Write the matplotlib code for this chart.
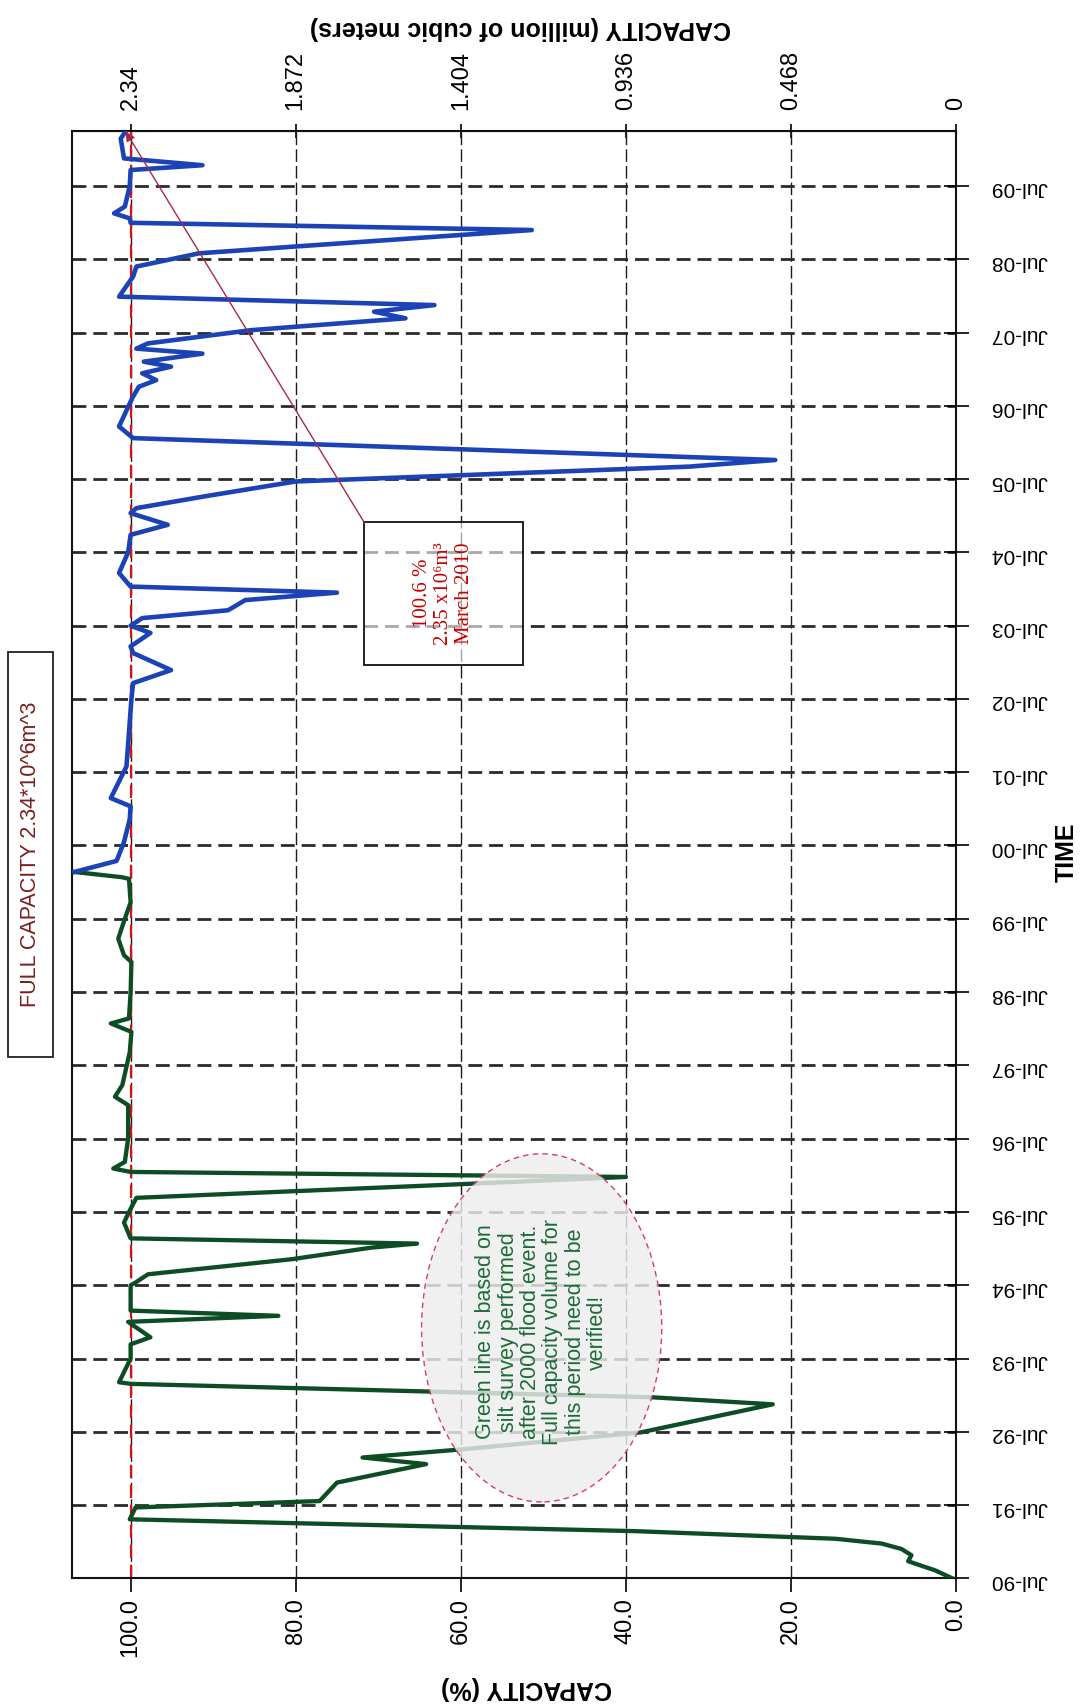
import matplotlib
matplotlib.use("Agg")
import matplotlib.pyplot as plt
import matplotlib.dates as mdates
from matplotlib.patches import Ellipse, Rectangle
from matplotlib.ticker import FuncFormatter
import pandas as pd

plt.rcParams['font.family'] = ['Liberation Sans', 'DejaVu Sans']

FULL_CAPACITY_MCM = 2.34  # million m^3 at 100 %

# Storage before the 2000 silt survey (green) ------------------------------
green_dates = [
    "1990-07-03", "1990-08-10", "1990-09-25", "1990-10-25", "1990-11-25",
    "1990-12-22", "1991-01-15", "1991-02-22", "1991-04-22", "1991-06-20",
    "1991-07-22", "1991-10-22", "1992-01-22", "1992-02-24", "1992-04-05",
    "1992-06-28", "1992-11-15", "1992-12-20", "1993-02-25", "1993-03-05",
    "1993-07-01", "1993-09-10", "1993-10-15", "1993-12-31", "1994-01-30",
    "1994-02-25", "1994-07-01", "1994-07-15", "1994-08-25", "1994-11-08",
    "1995-01-05", "1995-01-25", "1995-02-20", "1995-05-10", "1995-07-01",
    "1995-09-10", "1995-11-20", "1995-12-23", "1996-01-17", "1996-02-03",
    "1996-03-07", "1996-07-01", "1996-12-15", "1997-01-26", "1997-03-25",
    "1997-09-06", "1997-12-15", "1998-01-26", "1998-02-20", "1998-07-01",
    "1998-11-28", "1999-01-01", "1999-03-25", "1999-07-01", "1999-09-22",
    "2000-01-17", "2000-01-25", "2000-02-20",
]
green_pct = [
    0.5, 2.5, 5.8, 5.4, 6.6,
    9.0, 14.6, 38.9, 100.1, 99.4,
    77.1, 75.0, 64.2, 71.9, 59.7,
    38.2, 22.2, 36.8, 100.0, 101.4,
    100.0, 100.0, 97.6, 100.3, 82.1,
    100.0, 100.0, 99.4, 97.9, 80.5,
    70.8, 65.3, 100.0, 100.8, 100.2,
    99.3, 58.3, 40.0, 100.0, 102.1,
    100.7, 100.3, 100.3, 101.9, 101.0,
    100.1, 99.9, 102.4, 100.2, 100.0,
    99.9, 100.8, 101.5, 100.7, 100.0,
    100.2, 101.1, 106.8,
]

# Storage after the 2000 flood event (blue) --------------------------------
blue_dates = [
    "2000-02-20", "2000-04-15", "2000-07-18", "2000-11-10", "2001-01-12",
    "2001-02-22", "2001-07-30", "2002-07-01", "2002-09-18", "2002-11-22",
    "2003-02-15", "2003-03-20", "2003-05-26", "2003-07-01", "2003-08-08",
    "2003-09-16", "2003-11-06", "2003-12-13", "2004-01-12", "2004-03-20",
    "2004-07-01", "2004-09-26", "2004-11-15", "2005-01-12", "2005-02-06",
    "2005-04-06", "2005-06-19", "2005-09-01", "2005-10-04", "2006-01-21",
    "2006-03-20", "2006-07-13", "2006-08-16", "2006-10-04", "2006-11-06",
    "2006-12-10", "2007-01-12", "2007-02-06", "2007-03-18", "2007-04-12",
    "2007-05-08", "2007-07-13", "2007-09-10", "2007-10-13", "2007-11-15",
    "2007-12-27", "2008-04-05", "2008-05-25", "2008-07-30", "2008-09-02",
    "2008-11-23", "2008-12-29", "2009-01-20", "2009-02-14", "2009-03-20",
    "2009-07-01", "2009-09-18", "2009-10-12", "2009-11-15", "2010-02-22",
    "2010-03-29",
]
blue_pct = [
    106.8, 101.7, 100.8, 100.1, 100.0,
    102.4, 100.5, 99.9, 99.7, 95.1,
    99.7, 100.0, 97.6, 100.0, 98.6,
    88.2, 86.1, 75.0, 100.0, 101.4,
    100.3, 100.0, 95.5, 100.0, 99.3,
    91.0, 80.0, 32.3, 21.9, 99.7,
    101.4, 100.1, 99.7, 99.0, 96.9,
    98.6, 95.1, 98.4, 91.3, 99.3,
    97.9, 85.4, 66.7, 70.5, 63.2,
    101.4, 99.7, 99.3, 91.7, 80.0,
    51.4, 100.0, 100.1, 102.0, 100.7,
    100.1, 100.0, 91.3, 100.8, 101.2,
    100.6,
]

pct_ticks = [0, 20, 40, 60, 80, 100]
volume_ticks = [0, 0.468, 0.936, 1.404, 1.872, 2.34]
year_ticks = [f"{y}-07-01" for y in range(1990, 2010)]

green_t = pd.to_datetime(green_dates)
blue_t = pd.to_datetime(blue_dates)

fig = plt.figure(figsize=(10.8, 17.07), dpi=100)
ax = fig.add_axes([0.06667, 0.07528, 0.81852, 0.84827])

# data lines
ax.plot(green_pct, green_t, color='#0d4d24', lw=3.1, zorder=3)
ax.plot(blue_pct, blue_t, color='#1c43b5', lw=3.3, zorder=3)

# full-capacity reference line
ax.axvline(100, color='#d41515', lw=1.6, ls=(0, (6, 3)), zorder=2.5)

ax.set_xlim(107.1, 0)
ax.set_ylim(mdates.date2num(pd.Timestamp("1990-07-01")),
            mdates.date2num(pd.Timestamp("2010-04-03")))

ax.set_xticks(pct_ticks)
ax.set_yticks(mdates.date2num(pd.to_datetime(year_ticks)))
ax.xaxis.grid(True, color='#1a1a1a', lw=1.0, ls=(0, (9, 3)))
ax.yaxis.grid(True, color='#2a2a2a', lw=2.0, ls=(0, (5, 2.5)))
ax.set_axisbelow(True)

ax.yaxis.tick_right()
ax.yaxis.set_major_formatter(mdates.DateFormatter('%b-%y'))
ax.xaxis.set_major_formatter(FuncFormatter(lambda v, p: f"{v:.1f}"))
ax.tick_params(axis='y', direction='inout', length=18, width=1.2, pad=16,
               labelsize=15, labelrotation=180, right=True, left=False)
ax.tick_params(axis='x', direction='out', length=10, width=1.2, pad=4,
               labelsize=17, labelrotation=90)
for s in ax.spines.values():
    s.set_linewidth(1.5)
    s.set_color('#111111')

# volume scale along the top
secax = ax.secondary_xaxis(
    'top',
    functions=(lambda p: p * FULL_CAPACITY_MCM / 100.0,
               lambda v: v * 100.0 / FULL_CAPACITY_MCM))
secax.set_xticks(volume_ticks)
secax.xaxis.set_major_formatter(FuncFormatter(lambda v, p: f"{v:g}"))
secax.tick_params(direction='inout', length=10, width=1.2, pad=10,
                  labelsize=17, labelrotation=90)

ax.set_xlabel('CAPACITY (%)', fontsize=18, fontweight='bold',
              rotation=180, va='center')
ax.xaxis.set_label_coords(0.5136, -0.0756)
secax.set_xlabel('CAPACITY (million of cubic meters)', fontsize=18,
                 fontweight='bold', rotation=180, va='center')
secax.xaxis.set_label_coords(0.507, 1.0705, transform=ax.transAxes)
ax.yaxis.set_label_position('right')
ax.set_ylabel('TIME', fontsize=18, fontweight='bold', rotation=90,
              va='center')
ax.yaxis.set_label_coords(1.1256, 0.5017)

# note on the pre-2000 survey basis
ell_center = mdates.date2num(pd.Timestamp("1993-12-01"))
ax.add_patch(Ellipse((50.2, ell_center), width=29.1, height=4.75 * 365.25,
                     facecolor=(0.93, 0.93, 0.93, 0.82), edgecolor='#d63a74',
                     lw=1.0, ls=(0, (4, 3)), zorder=4))
ax.text(50.2, mdates.date2num(pd.Timestamp("1993-11-10")),
        "Green line is based on\nsilt survey performed\n"
        "after 2000 flood event.\nFull capacity volume for\n"
        "this period need to be\nverified!",
        rotation=90, ha='center', va='center', multialignment='center',
        color='#1d6b38', fontsize=15.5, linespacing=1.08, zorder=5)

# latest reading callout
last_t = blue_t[-1]
last_pct = blue_pct[-1]
box_lo = mdates.date2num(pd.Timestamp("2002-12-17"))
box_hi = mdates.date2num(pd.Timestamp("2004-11-27"))
box_x0, box_x1 = 52.4, 71.7
ax.add_patch(Rectangle((box_x0, box_lo), box_x1 - box_x0, box_hi - box_lo,
                       facecolor=(1, 1, 1, 0.6), edgecolor='#111111',
                       lw=1.3, zorder=4))
ax.text((box_x0 + box_x1) / 2, (box_lo + box_hi) / 2,
        f"{last_pct:.1f} %\n"
        f"{last_pct * FULL_CAPACITY_MCM / 100:.2f} x10\u2076m\u00b3\n"
        f"{last_t.strftime('%B %Y')}",
        rotation=90, ha='center', va='center', multialignment='center',
        color='#c40000', fontsize=15, linespacing=1.15,
        family=['Liberation Serif', 'DejaVu Serif'], zorder=5)
ax.annotate('', xy=(last_pct, mdates.date2num(last_t)),
            xytext=(box_x1, box_hi),
            arrowprops=dict(arrowstyle='-|>', color='#a8284a', lw=1.0,
                            mutation_scale=14, shrinkA=0, shrinkB=0),
            zorder=5)

# full capacity label at the side
fig.add_artist(Rectangle((8 / 1080, 1 - 1056.7 / 1707), 44.7 / 1080,
                         405 / 1707, transform=fig.transFigure, fill=False,
                         ec='#222222', lw=1.3))
fig.text(30.4 / 1080, 1 - 854 / 1707,
         f"FULL CAPACITY {FULL_CAPACITY_MCM}*10^6m^3",
         rotation=90, ha='center', va='center', fontsize=15.5,
         color='#7a1f1f')

fig.savefig('out.png', dpi=100)
